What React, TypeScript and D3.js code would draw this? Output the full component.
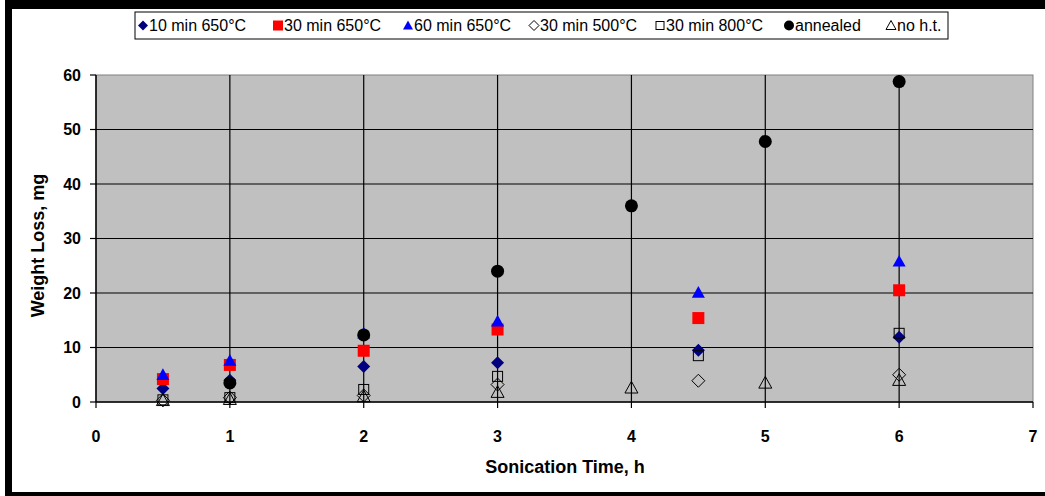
import React from "react";
import * as d3 from "d3";

const xTicks = [0, 1, 2, 3, 4, 5, 6, 7];
const yTicks = [0, 10, 20, 30, 40, 50, 60];

const seriesNames = ["10 min 650°C", "30 min 650°C", "60 min 650°C", "30 min 500°C", "30 min 800°C", "annealed", "no h.t."];

const s10min650x = [0.5, 1, 2, 3, 4.5, 6];
const s10min650y = [2.5, 4.0, 6.5, 7.2, 9.5, 11.9];
const s30min650x = [0.5, 1, 2, 3, 4.5, 6];
const s30min650y = [4.2, 6.8, 9.4, 13.3, 15.4, 20.5];
const s60min650x = [0.5, 1, 2, 3, 4.5, 6];
const s60min650y = [5.0, 7.6, 12.6, 14.8, 20.1, 25.8];
const s30min500x = [0.5, 1, 2, 3, 4.5, 6];
const s30min500y = [0.3, 0.8, 1.2, 3.2, 3.9, 5.0];
const s30min800x = [0.5, 1, 2, 3, 4.5, 6];
const s30min800y = [0.4, 0.8, 2.3, 4.7, 8.5, 12.6];
const annealedX = [1, 2, 3, 4, 5, 6];
const annealedY = [3.5, 12.3, 24.0, 36.0, 47.8, 58.8];
const noHtX = [0.5, 1, 2, 3, 4, 5, 6];
const noHtY = [0.3, 0.5, 1.0, 1.8, 2.6, 3.5, 4.0];

type Shape = "diamond" | "square" | "triangle" | "circle";
const seriesDefs: { xs: number[]; ys: number[]; shape: Shape; color: string; filled: boolean }[] = [
  { xs: s10min650x, ys: s10min650y, shape: "diamond", color: "#000080", filled: true },
  { xs: s30min650x, ys: s30min650y, shape: "square", color: "#ff0000", filled: true },
  { xs: s60min650x, ys: s60min650y, shape: "triangle", color: "#0000ff", filled: true },
  { xs: s30min500x, ys: s30min500y, shape: "diamond", color: "#000000", filled: false },
  { xs: s30min800x, ys: s30min800y, shape: "square", color: "#000000", filled: false },
  { xs: annealedX, ys: annealedY, shape: "circle", color: "#000000", filled: true },
  { xs: noHtX, ys: noHtY, shape: "triangle", color: "#000000", filled: false },
];

const font = "'Liberation Sans', Arial, sans-serif";

function Marker({ shape, color, filled, cx, cy, s }: { shape: Shape; color: string; filled: boolean; cx: number; cy: number; s: number }) {
  const fill = filled ? color : "none";
  const stroke = color;
  const sw = filled ? 0 : 1;
  const h = s / 2;
  if (shape === "diamond") {
    const d = `M${cx},${cy - h}L${cx + h},${cy}L${cx},${cy + h}L${cx - h},${cy}Z`;
    return <path d={d} fill={fill} stroke={stroke} strokeWidth={sw} />;
  }
  if (shape === "square") {
    const q = filled ? h : h - 1;
    return <rect x={cx - q} y={cy - q} width={q * 2} height={q * 2} fill={fill} stroke={stroke} strokeWidth={sw} />;
  }
  if (shape === "triangle") {
    const d = `M${cx},${cy - h}L${cx + h},${cy + h * 0.8}L${cx - h},${cy + h * 0.8}Z`;
    return <path d={d} fill={fill} stroke={stroke} strokeWidth={sw} />;
  }
  return <circle cx={cx} cy={cy} r={h} fill={fill} stroke={stroke} strokeWidth={sw} />;
}

export default function App() {
  const W = 1045, H = 496;
  const left = 96, right = 1033, top = 75, bottom = 402;
  const x = d3.scaleLinear().domain([0, 7]).range([left, right]);
  const y = d3.scaleLinear().domain([0, 60]).range([bottom, top]);

  const legendX = [138, 273, 403, 529, 655, 784, 886];

  return (
    <svg width={W} height={H} style={{ position: "fixed", left: 0, top: 0, background: "#fff" }} fontFamily={font}>
      <rect x={0} y={0} width={W} height={H} fill="#fff" />
      {/* outer black frame */}
      <rect x={5} y={0} width={W - 5} height={9} fill="#000" />
      <rect x={5} y={0} width={7} height={H} fill="#000" />
      <rect x={5} y={492} width={W - 5} height={4} fill="#000" />

      {/* plot area */}
      <rect x={left} y={top} width={right - left} height={bottom - top} fill="#c0c0c0" stroke="#808080" strokeWidth={1} />
      {yTicks.filter((t) => t > 0 && t < 60).map((t) => (
        <line key={"gy" + t} x1={left} x2={right} y1={y(t)} y2={y(t)} stroke="#000" strokeWidth={1.2} />
      ))}
      {xTicks.filter((t) => t > 0 && t < 7).map((t) => (
        <line key={"gx" + t} x1={x(t)} x2={x(t)} y1={top} y2={bottom} stroke="#000" strokeWidth={1.2} />
      ))}
      {/* axes */}
      <line x1={left} x2={left} y1={top} y2={bottom} stroke="#000" strokeWidth={1.5} />
      <line x1={left} x2={right} y1={bottom} y2={bottom} stroke="#000" strokeWidth={1.5} />
      {yTicks.map((t) => (
        <g key={"yt" + t}>
          <line x1={left - 6} x2={left} y1={y(t)} y2={y(t)} stroke="#000" strokeWidth={1.2} />
          <text x={81} y={y(t)} dy="0.36em" textAnchor="end" fontSize={16} fontWeight="bold">{t}</text>
        </g>
      ))}
      {xTicks.map((t) => (
        <g key={"xt" + t}>
          <line x1={x(t)} x2={x(t)} y1={bottom} y2={bottom + 6} stroke="#000" strokeWidth={1.2} />
          <text x={x(t)} y={436} dy="0.36em" textAnchor="middle" fontSize={16} fontWeight="bold">{t}</text>
        </g>
      ))}
      <text x={565} y={467} dy="0.36em" textAnchor="middle" fontSize={18} fontWeight="bold">Sonication Time, h</text>
      <text transform={`translate(38,${(top + bottom) / 2 + 7}) rotate(-90)`} dy="0.36em" textAnchor="middle" fontSize={18} fontWeight="bold">Weight Loss, mg</text>

      {/* data */}
      {seriesDefs.map((s, i) => (
        <g key={"s" + i}>
          {s.xs.map((xv, j) => (
            <Marker key={j} shape={s.shape} color={s.color} filled={s.filled} cx={x(xv)} cy={y(s.ys[j])} s={s.shape === "square" ? 12 : 13} />
          ))}
        </g>
      ))}

      {/* legend */}
      <rect x={135} y={12} width={813} height={27} fill="#fff" stroke="#000" strokeWidth={1} />
      {seriesDefs.map((s, i) => (
        <g key={"lg" + i}>
          <Marker shape={s.shape} color={s.color} filled={s.filled} cx={legendX[i] + 5} cy={25.5} s={10} />
          <text x={legendX[i] + 11} y={25.5} dy="0.36em" fontSize={16}>{seriesNames[i]}</text>
        </g>
      ))}
    </svg>
  );
}
